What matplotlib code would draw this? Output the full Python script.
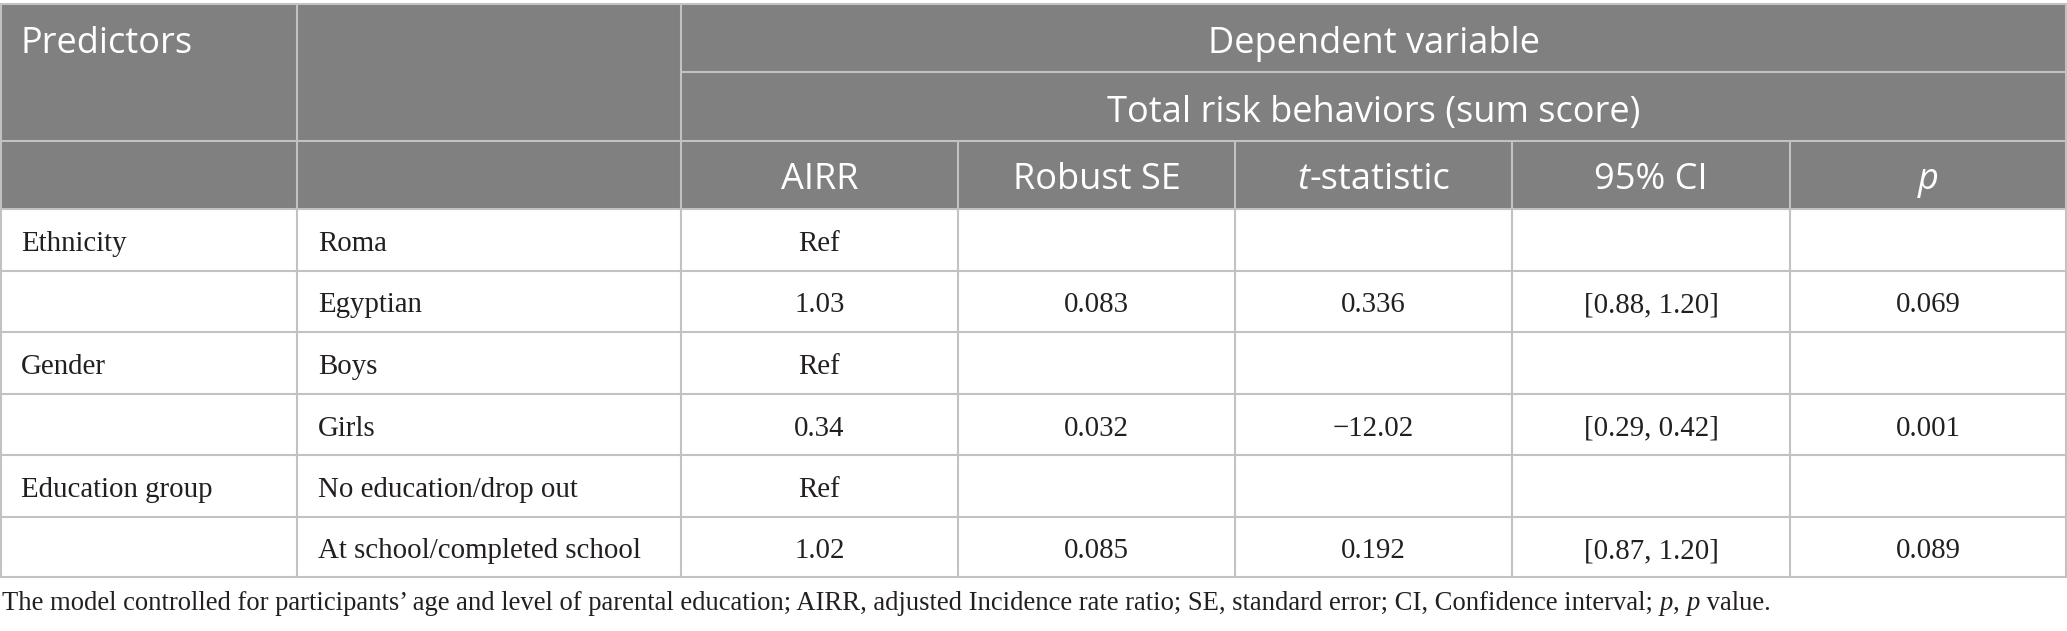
import matplotlib
matplotlib.use("Agg")
import matplotlib.pyplot as plt
from matplotlib.patches import Rectangle

# --- data ---
predictors = ["Ethnicity", "", "Gender", "", "Education group", ""]
levels = ["Roma", "Egyptian", "Boys", "Girls",
          "No education/drop out", "At school/completed school"]
airr = ["Ref", "1.03", "Ref", "0.34", "Ref", "1.02"]
robust_se = ["", "0.083", "", "0.032", "", "0.085"]
t_stat = ["", "0.336", "", "\u221212.02", "", "0.192"]
ci95 = ["", "[0.88, 1.20]", "", "[0.29, 0.42]", "", "[0.87, 1.20]"]
p_vals = ["", "0.069", "", "0.001", "", "0.089"]

title_left = "Predictors"
title_top = "Dependent variable"
title_sub = "Total risk behaviors (sum score)"
# (text, italic) runs
col_headers = [
    [("AIRR", False)],
    [("Robust SE", False)],
    [("t", True), ("-statistic", False)],
    [("95% CI", False)],
    [("p", True)],
]
footnote = [
    ("The model controlled for participants\u2019 age and level of parental education; "
     "AIRR, adjusted Incidence rate ratio; SE, standard error; CI, Confidence interval; ", False),
    ("p", True), (", ", False), ("p", True), (" value.", False),
]

# --- layout (pixels) ---
W, H = 2067, 631
col_x = [0, 297, 681, 958, 1235, 1512, 1790, 2067]
head_y = [4, 72, 141, 209]
head_base = [53, 122, 189]
body_y = [209, 271, 332, 394, 455, 517, 577]
pad = 21

HEAD_BG = "#7f807f"
GRID = "#c2c2c2"
TXT = "#231f20"
SANS = "Open Sans"
SERIF = "Liberation Serif"
HEAD_FS = 26
BODY_FS = 20.8
NOTE_FS = 19.2

fig = plt.figure(figsize=(W / 100, H / 100), dpi=100)
ax = fig.add_axes([0, 0, 1, 1])
ax.set_xlim(0, W)
ax.set_ylim(H, 0)
ax.axis("off")

ax.add_patch(Rectangle((0, head_y[0]), W, head_y[-1] - head_y[0],
                       facecolor=HEAD_BG, edgecolor="none", zorder=0))

lw = 1.5
def hline(y, x0, x1):
    ax.plot([x0, x1], [y, y], color=GRID, lw=lw, solid_capstyle="butt", zorder=2)
def vline(x, y0, y1):
    ax.plot([x, x], [y0, y1], color=GRID, lw=lw, solid_capstyle="butt", zorder=2)

hline(head_y[0], 0, W)
hline(head_y[1], col_x[2], W)
hline(head_y[2], 0, W)
for y in body_y:
    hline(y, 0, W)
for x in [1, col_x[1], col_x[2], W - 1]:
    vline(x, head_y[0], body_y[-1])
for x in col_x[3:-1]:
    vline(x, head_y[2], body_y[-1])

fig.canvas.draw()
renderer = fig.canvas.get_renderer()


def runs_text(x, y, runs, family, size, color, ha="center"):
    # draw a line made of normal/italic pieces
    pieces = []
    for s, it in runs:
        t = ax.text(0, y, s, family=family, fontsize=size, color=color,
                    style="italic" if it else "normal", va="baseline", ha="left", zorder=3)
        bb = t.get_window_extent(renderer)
        pieces.append((t, bb.width))
    total = sum(w for _, w in pieces)
    cur = x - total / 2 if ha == "center" else x
    for t, w in pieces:
        t.set_x(cur)
        cur += w


# header
ax.text(pad, head_base[0], title_left, family=SANS, fontsize=HEAD_FS,
        color="white", va="baseline", ha="left")
ax.text((col_x[2] + W) / 2, head_base[0], title_top, family=SANS,
        fontsize=HEAD_FS, color="white", va="baseline", ha="center")
ax.text((col_x[2] + W) / 2, head_base[1], title_sub, family=SANS,
        fontsize=HEAD_FS, color="white", va="baseline", ha="center")
for i, runs in enumerate(col_headers):
    cx = (col_x[i + 2] + col_x[i + 3]) / 2
    runs_text(cx, head_base[2], runs, SANS, HEAD_FS, "white")

# body
value_cols = [airr, robust_se, t_stat, ci95, p_vals]
for r in range(len(levels)):
    by = (body_y[r] + body_y[r + 1]) / 2 + 11
    ax.text(col_x[0] + pad, by, predictors[r], family=SERIF, fontsize=BODY_FS,
            color=TXT, va="baseline", ha="left")
    ax.text(col_x[1] + pad, by, levels[r], family=SERIF, fontsize=BODY_FS,
            color=TXT, va="baseline", ha="left")
    for j, col in enumerate(value_cols):
        cx = (col_x[j + 2] + col_x[j + 3]) / 2
        ax.text(cx, by, col[r], family=SERIF, fontsize=BODY_FS, color=TXT,
                va="baseline", ha="center")

runs_text(2, 610, footnote, SERIF, NOTE_FS, TXT, ha="left")

fig.savefig("out.png", dpi=100)
